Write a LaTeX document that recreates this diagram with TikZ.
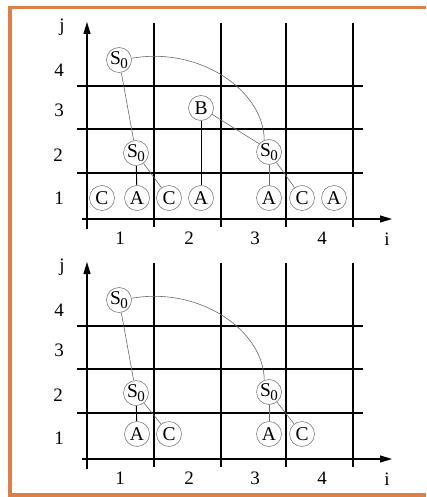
\documentclass[tikz,border=0pt]{standalone}
\usepackage{fontspec}
\setmainfont{Liberation Serif}
\usetikzlibrary{arrows.meta}
\definecolor{frameorange}{RGB}{220,128,74}
\definecolor{conngray}{RGB}{105,105,105}
\newcommand\Szero{S\kern-0.5pt\raisebox{-0.45ex}{\fontsize{15}{15}\selectfont 0}}
\newcommand\panelgrid{%
  \foreach \x in {154,221,286,353} \draw[gridline] (\x,23) -- (\x,227);
  \foreach \y in {86,129,173} \draw[gridline] (77,\y) -- (363,\y);
  \draw[axisline] (82,219) -- (392,219);
  \draw[axisline] (87,229) -- (87,22);
  \node[lab] (lj) at (62,27) {j};
  \node[lab] (li) at (387,239) {i};
  \node[lab] (r4) at (59,70) {4};
  \node[lab] (r3) at (59,110) {3};
  \node[lab] (r2) at (58,155) {2};
  \node[lab] (r1) at (59,198) {1};
  \node[lab] (c1) at (120,238) {1};
  \node[lab] (c2) at (189,238) {2};
  \node[lab] (c3) at (255,238) {3};
  \node[lab] (c4) at (322,238) {4};
}
\begin{document}
\begin{tikzpicture}[x=1pt,y=-1pt,
  gridline/.style={line width=1.1pt,black},
  axisline/.style={line width=1.1pt,black,-{Triangle[length=12pt,width=7pt]}},
  sym/.style={circle,draw=gray,line width=0.6pt,minimum size=25pt,inner sep=0pt,
              font=\fontsize{19.5}{19.5}\selectfont},
  lab/.style={font=\fontsize{19}{19}\selectfont,inner sep=0pt},
  conn/.style={draw=conngray,line width=0.6pt},
  connb/.style={draw=black,line width=0.9pt}]
\useasboundingbox (0,0) rectangle (426,497);
\fill[white] (0,0) rectangle (426,497);
\draw[frameorange,line width=3.5pt] (426,7.5) -- (10,7.5) -- (10,495) -- (426,495);

% top panel
\begin{scope}[name prefix=t-]
  \panelgrid
  \node[sym] (s4) at (119,60) {\Szero};
  \node[sym] (b) at (201,108) {B};
  \node[sym] (s2l) at (136,153) {\Szero};
  \node[sym] (s2r) at (269,152) {\Szero};
  \node[sym] (ca) at (102,198) {C};
  \node[sym] (a1) at (137,198) {A};
  \node[sym] (cb) at (169,198) {C};
  \node[sym] (a2) at (201,198) {A};
  \node[sym] (a3) at (269,198) {A};
  \node[sym] (cc) at (302,198) {C};
  \node[sym] (a4) at (334,198) {A};
  \draw[conn] (s4) -- (s2l);
  \draw[conn] (s4.8) .. controls +(70,-12) and +(0,-48) .. (s2r.112);
  \draw[conn] (b.330) -- (s2r.140);
  \draw[connb] (b) -- (a2);
  \draw[connb] (s2l) -- (a1);
  \draw[conn] (s2l) -- (cb);
  \draw[conn] (s2r) -- (a3);
  \draw[conn] (s2r) -- (cc);
\end{scope}

% bottom panel
\begin{scope}[shift={(0,240)},name prefix=b-]
  \panelgrid
  \node[sym] (s4) at (119,60) {\Szero};
  \node[sym] (s2l) at (136,153) {\Szero};
  \node[sym] (s2r) at (269,152) {\Szero};
  \node[sym] (a1) at (137,194) {A};
  \node[sym] (cb) at (169,194) {C};
  \node[sym] (a3) at (269,194) {A};
  \node[sym] (cc) at (302,194) {C};
  \draw[conn] (s4) -- (s2l);
  \draw[conn] (s4.8) .. controls +(70,-12) and +(0,-48) .. (s2r.112);
  \draw[connb] (s2l) -- (a1);
  \draw[conn] (s2l) -- (cb);
  \draw[conn] (s2r) -- (a3);
  \draw[conn] (s2r) -- (cc);
\end{scope}
\end{tikzpicture}
\end{document}
